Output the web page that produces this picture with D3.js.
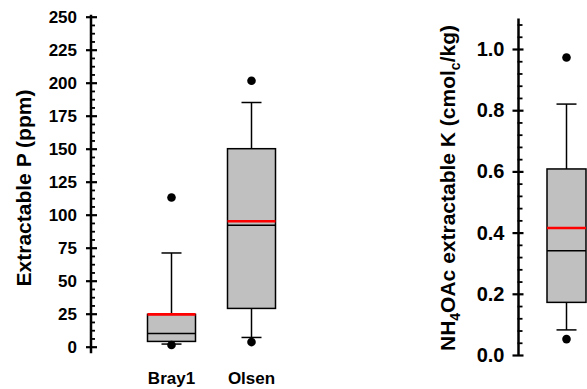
<!DOCTYPE html>
<html>
<head>
<meta charset="utf-8">
<script src="https://cdn.jsdelivr.net/npm/d3@7"></script>
<style>
  body { margin: 0; background: #fff; }
  svg text { font-family: "Liberation Sans", Arial, sans-serif; font-weight: bold; fill: #000; }
</style>
</head>
<body>
<div id="viz"></div>
<script>
// Extractable P (left panel)
var pCategories = ["Bray1", "Olsen"];
var pLow = [2, 7];
var pQ1 = [4, 29];
var pMedian = [10, 92];
var pQ3 = [24.5, 150];
var pHigh = [71, 185];
var pMean = [24.5, 95];
var pOutliers = [[113, 1.3], [201.5, 3.5]];
var pTicks = [0, 25, 50, 75, 100, 125, 150, 175, 200, 225, 250];

// NH4OAc extractable K (right panel)
var kCategories = ["K"];
var kLow = [0.082];
var kQ1 = [0.172];
var kMedian = [0.341];
var kQ3 = [0.608];
var kHigh = [0.82];
var kMean = [0.415];
var kOutliers = [[0.972, 0.052]];
var kTicks = [0, 0.2, 0.4, 0.6, 0.8, 1.0];

var width = 587,
    height = 389;

var svg = d3.select("#viz").append("svg")
    .attr("width", width)
    .attr("height", height);

function drawPanel(o) {
    var g = svg.append("g");

    // minor ticks
    g.append("g")
        .attr("transform", "translate(" + o.axisX + ",0)")
        .call(d3.axisRight(o.y).tickValues(o.minor).tickSize(4).tickFormat(""))
        .call(function(s) {
            s.select(".domain").remove();
            s.selectAll("line").attr("stroke-width", 1.8).attr("x1", -1);
        });

    // major ticks + labels
    g.append("g")
        .attr("transform", "translate(" + o.axisX + ",0)")
        .call(d3.axisLeft(o.y).tickValues(o.ticks).tickSize(o.tickIn).tickPadding(o.pad).tickFormat(o.fmt))
        .call(function(s) {
            s.select(".domain").remove();
            s.selectAll("line").attr("stroke-width", 2.2).attr("x2", -o.tickIn).attr("x1", o.tickOut);
            s.selectAll("text").attr("font-size", o.tickFont).style("font-family", "Liberation Sans, Arial, sans-serif").style("font-weight", "bold");
        });

    // axis line
    g.append("line")
        .attr("x1", o.axisX).attr("x2", o.axisX)
        .attr("y1", o.y(o.axisFrom)).attr("y2", o.y(o.axisTo))
        .attr("stroke", "#000").attr("stroke-width", 2.5);

    var idx = d3.range(o.cats.length);
    var bw = o.boxW;

    // whiskers
    g.selectAll(".whisk").data(idx).enter().append("line")
        .attr("x1", function(i) { return o.x(o.cats[i]); })
        .attr("x2", function(i) { return o.x(o.cats[i]); })
        .attr("y1", function(i) { return o.y(o.low[i]); })
        .attr("y2", function(i) { return o.y(o.high[i]); })
        .attr("stroke", "#000").attr("stroke-width", 1.5);

    // caps
    [o.low, o.high].forEach(function(arr) {
        g.selectAll(null).data(idx).enter().append("line")
            .attr("x1", function(i) { return o.x(o.cats[i]) - 10; })
            .attr("x2", function(i) { return o.x(o.cats[i]) + 10; })
            .attr("y1", function(i) { return o.y(arr[i]); })
            .attr("y2", function(i) { return o.y(arr[i]); })
            .attr("stroke", "#000").attr("stroke-width", 1.5);
    });

    // boxes
    g.selectAll(".box").data(idx).enter().append("rect")
        .attr("x", function(i) { return o.x(o.cats[i]) - bw / 2; })
        .attr("width", bw)
        .attr("y", function(i) { return o.y(o.q3[i]); })
        .attr("height", function(i) { return o.y(o.q1[i]) - o.y(o.q3[i]); })
        .attr("fill", "#c0c0c0").attr("stroke", "#000").attr("stroke-width", 1.5);

    // median
    g.selectAll(".med").data(idx).enter().append("line")
        .attr("x1", function(i) { return o.x(o.cats[i]) - bw / 2; })
        .attr("x2", function(i) { return o.x(o.cats[i]) + bw / 2; })
        .attr("y1", function(i) { return o.y(o.median[i]); })
        .attr("y2", function(i) { return o.y(o.median[i]); })
        .attr("stroke", "#000").attr("stroke-width", 1.5);

    // mean
    g.selectAll(".mean").data(idx).enter().append("line")
        .attr("x1", function(i) { return o.x(o.cats[i]) - bw / 2; })
        .attr("x2", function(i) { return o.x(o.cats[i]) + bw / 2; })
        .attr("y1", function(i) { return o.y(o.mean[i]); })
        .attr("y2", function(i) { return o.y(o.mean[i]); })
        .attr("stroke", "#ff0000").attr("stroke-width", 2.6);

    // outliers
    idx.forEach(function(i) {
        g.selectAll(null).data(o.outliers[i]).enter().append("circle")
            .attr("cx", o.x(o.cats[i]))
            .attr("cy", function(d) { return o.y(d); })
            .attr("r", 4.3)
            .attr("fill", "#000");
    });

    return g;
}

// left panel
var yP = d3.scaleLinear().domain([0, 250]).range([346.7, 16.7]);
var xP = d3.scalePoint().domain(pCategories).range([171.5, 251.5]);
var pMinor = d3.range(0, 251, 6.25).filter(function(v) { return v % 25 !== 0; });

var gP = drawPanel({
    y: yP, x: xP, axisX: 91, cats: pCategories,
    low: pLow, q1: pQ1, median: pMedian, q3: pQ3, high: pHigh, mean: pMean, outliers: pOutliers,
    ticks: pTicks, minor: pMinor, fmt: d3.format("d"),
    tickIn: 5, tickOut: 6, pad: 9, tickFont: 17,
    axisFrom: -5, axisTo: 251.5, boxW: 48
});

gP.selectAll(".cat").data(pCategories).enter().append("text")
    .attr("x", function(d) { return xP(d); })
    .attr("y", 384)
    .attr("text-anchor", "middle")
    .attr("font-size", 17)
    .text(function(d) { return d; });

gP.append("text")
    .attr("transform", "translate(31,188) rotate(-90)")
    .attr("text-anchor", "middle")
    .attr("font-size", 21)
    .text("Extractable P (ppm)");

// right panel
var yK = d3.scaleLinear().domain([0, 1]).range([355, 49]);
var xK = d3.scalePoint().domain(kCategories).range([547, 586]);
var kMinor = d3.range(1, 28).map(function(i) { return i * 0.04; })
    .filter(function(v) { return Math.abs(v / 0.2 - Math.round(v / 0.2)) > 0.01; });

var gK = drawPanel({
    y: yK, x: xK, axisX: 518.5, cats: kCategories,
    low: kLow, q1: kQ1, median: kMedian, q3: kQ3, high: kHigh, mean: kMean, outliers: kOutliers,
    ticks: kTicks, minor: kMinor, fmt: d3.format(".1f"),
    tickIn: 6, tickOut: 5, pad: 8, tickFont: 20,
    axisFrom: 0, axisTo: 1.1, boxW: 39
});

var kTitle = gK.append("text")
    .attr("transform", "translate(455,188) rotate(-90)")
    .attr("text-anchor", "middle")
    .attr("font-size", 21);
kTitle.append("tspan").text("NH");
kTitle.append("tspan").attr("font-size", 14).attr("dy", 5).text("4");
kTitle.append("tspan").attr("dy", -5).text("OAc extractable K (cmol");
kTitle.append("tspan").attr("font-size", 14).attr("dy", 5).text("c");
kTitle.append("tspan").attr("dy", -5).text("/kg)");
</script>
</body>
</html>
